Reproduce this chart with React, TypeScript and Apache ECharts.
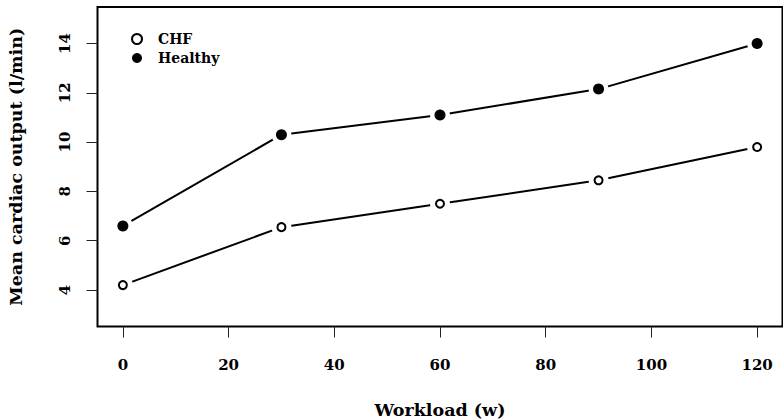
import React, { useEffect, useRef } from "react";
import * as echarts from "echarts";

const workload = [0, 30, 60, 90, 120];
const chf = [4.2, 6.55, 7.5, 8.45, 9.8];
const healthy = [6.6, 10.3, 11.1, 12.15, 14.0];
const xTicks = [0, 20, 40, 60, 80, 100, 120];
const yTicks = [4, 6, 8, 10, 12, 14];

const FONT = "DejaVu Serif";

export default function App() {
  const ref = useRef<HTMLDivElement>(null);
  useEffect(() => {
    if (!ref.current) return;
    const chart = echarts.init(ref.current, null, { renderer: "svg" });
    const pairs = (ys: number[]) => workload.map((x, i) => [x, ys[i]]);
    chart.setOption({
      animation: false,
      backgroundColor: "#fff",
      grid: {
        left: 97.5,
        top: 7,
        right: 0.5,
        bottom: 92.5,
        containLabel: false,
        outerBoundsMode: "none",
        show: true,
        borderColor: "#000",
        borderWidth: 2,
        backgroundColor: "transparent",
      },
      legend: {
        orient: "vertical",
        left: 131,
        top: 32,
        padding: 0,
        itemWidth: 10,
        itemHeight: 10,
        itemGap: 5,
        textStyle: {
          fontFamily: FONT,
          fontWeight: "bold",
          fontSize: 14,
          color: "#000",
          padding: [0, 0, 0, 11],
        },
        data: [
          { name: "CHF", icon: "circle", itemStyle: { color: "#fff", borderColor: "#000", borderWidth: 2 } },
          { name: "Healthy", icon: "circle", itemStyle: { color: "#000", borderWidth: 0 } },
        ],
      },
      xAxis: {
        type: "value",
        min: -4.8,
        max: 124.8,
        name: "Workload (w)",
        nameLocation: "middle",
        nameGap: 74,
        nameTextStyle: { fontFamily: FONT, fontWeight: "bold", fontSize: 17.5, color: "#000" },
        axisLine: { show: false, onZero: false },
        splitLine: { show: false },
        axisTick: { show: true, length: 11, customValues: xTicks, lineStyle: { color: "#222", width: 1 } },
        axisLabel: {
          customValues: xTicks,
          margin: 31,
          fontFamily: FONT,
          fontWeight: "bold",
          fontSize: 15,
          color: "#000",
        },
      },
      yAxis: {
        type: "value",
        min: 2.52,
        max: 15.48,
        name: "Mean cardiac output (l/min)",
        nameLocation: "middle",
        nameGap: 73,
        nameTextStyle: { fontFamily: FONT, fontWeight: "bold", fontSize: 17.5, color: "#000" },
        axisLine: { show: false, onZero: false },
        splitLine: { show: false },
        axisTick: { show: true, length: 11, customValues: yTicks, lineStyle: { color: "#222", width: 1 } },
        axisLabel: {
          customValues: yTicks,
          rotate: 90,
          align: "center",
          verticalAlign: "bottom",
          margin: 25,
          fontFamily: FONT,
          fontWeight: "bold",
          fontSize: 15,
          color: "#000",
        },
      },
      series: [
        {
          name: "CHF line",
          type: "line",
          data: pairs(chf),
          z: 1,
          lineStyle: { color: "#000", width: 2 },
          symbol: "circle",
          symbolSize: 20,
          itemStyle: { color: "#fff", borderWidth: 0 },
          silent: true,
        },
        {
          name: "Healthy line",
          type: "line",
          data: pairs(healthy),
          z: 1,
          lineStyle: { color: "#000", width: 2 },
          symbol: "circle",
          symbolSize: 20,
          itemStyle: { color: "#fff", borderWidth: 0 },
          silent: true,
        },
        {
          name: "CHF",
          type: "scatter",
          data: pairs(chf),
          z: 3,
          symbol: "circle",
          symbolSize: 8,
          itemStyle: { color: "#fff", borderColor: "#000", borderWidth: 2, opacity: 1 },
        },
        {
          name: "Healthy",
          type: "scatter",
          data: pairs(healthy),
          z: 3,
          symbol: "circle",
          symbolSize: 11,
          itemStyle: { color: "#000", opacity: 1 },
        },
      ],
    });
    return () => chart.dispose();
  }, []);
  return (
    <div
      ref={ref}
      style={{ position: "fixed", left: 0, top: 0, width: 783, height: 419, background: "#fff" }}
    />
  );
}
